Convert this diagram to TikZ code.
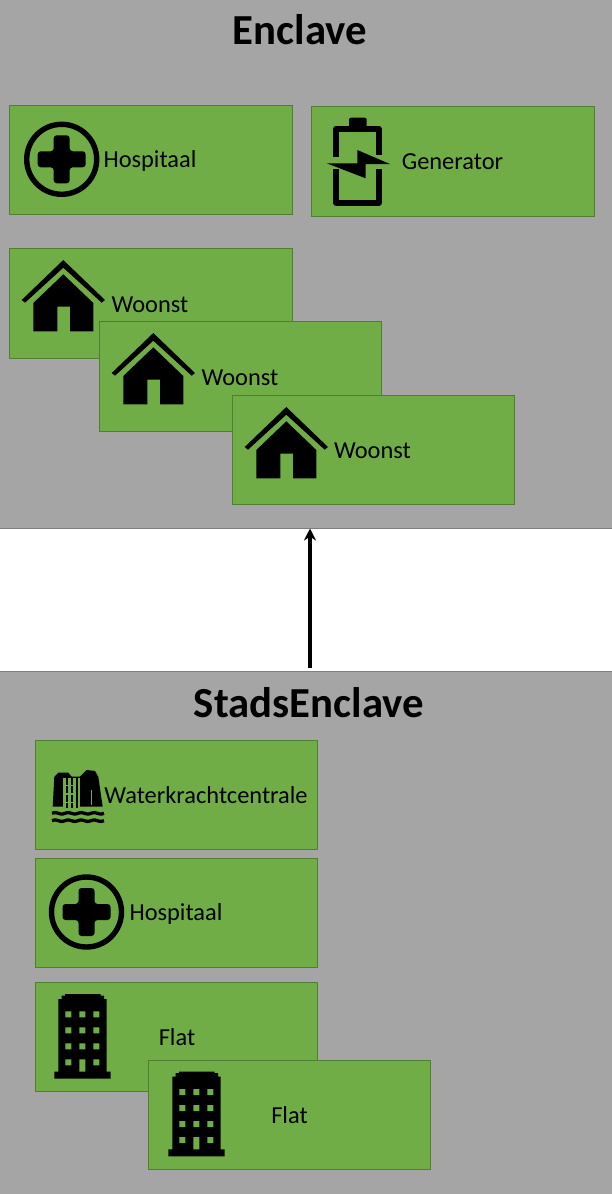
\documentclass[tikz,border=0pt]{standalone}
\usepackage{fontspec}
\usetikzlibrary{arrows.meta}
\setmainfont{Carlito}
\definecolor{panelgray}{HTML}{A5A5A5}
\definecolor{panelline}{HTML}{7F7F7F}
\definecolor{boxgreen}{HTML}{70AD47}
\definecolor{boxline}{HTML}{507E32}
\begin{document}
\begin{tikzpicture}[>={Stealth[length=12pt,width=12pt]},x=1pt,y=-1pt,
panel/.style={rectangle,fill=panelgray,draw=panelline,line width=.7pt,minimum width=613pt,inner sep=0pt,outer sep=0pt},
gebouw/.style={rectangle,fill=boxgreen,draw=boxline,line width=.7pt,minimum width=282pt,minimum height=109pt,inner sep=0pt,outer sep=0pt},
titel/.style={font=\fontsize{42.8}{50}\selectfont\bfseries,inner sep=0pt},
label/.style={font=\fontsize{24.4}{29}\selectfont,inner sep=0pt},
hospitaalicon/.pic={
\draw[line width=5.4pt](0,0) circle(35);
\fill[rounded corners=3pt](-8,-24)--(8,-24)--(8,-8)--(24,-8)--(24,8)--(8,8)--(8,24)--(-8,24)--(-8,8)--(-24,8)--(-24,-8)--(-8,-8)--cycle;
},
woonsticon/.pic={
\fill(0,0)--(41.7,40)--(38.4,42.7)--(0,7.7)--(-38.3,42.7)--(-41.6,40)--cycle;
\fill(0,14.3)--(30,43)--(30,71.3)--(6.7,71.3)--(6.7,46.7)--(-6,46.7)--(-6,71.3)--(-30,71.3)--(-30,43)--cycle;
},
flaticon/.pic={
\fill(10.7,0)--(46.4,0)--(46.4,1.5)--(49.7,1.5)--(49.7,5)--(52.4,5)--(52.4,77.7)--(56.4,77.7)--(56.4,84.7)--(0,84.7)--(0,77.7)--(4,77.7)--(4,5)--(7.3,5)--(7.3,1.5)--(10.7,1.5)--cycle;
\fill[boxgreen](11,17.3) rectangle +(6,6) (25,17.3) rectangle +(6,6) (39,17.3) rectangle +(6,6);
\fill[boxgreen](11,33.3) rectangle +(6,6) (25,33.3) rectangle +(6,6) (39,33.3) rectangle +(6,6);
\fill[boxgreen](11,49.3) rectangle +(6,6) (25,49.3) rectangle +(6,6) (39,49.3) rectangle +(6,6);
\fill[boxgreen](11,65.3) rectangle +(6,6) (25,65.3) rectangle +(6,12.4) (39,65.3) rectangle +(6,6);
},
generatoricon/.pic={
\fill[rounded corners=2pt](15.7,-8)--(33.4,-8)--(33.4,2)--(15.7,2)--cycle;
\draw[line width=6pt,line join=round](3,31.6)--(3,3)--(45.4,3)--(45.4,29.3);
\draw[line width=6pt,line join=round](3,43.3)--(3,77)--(45.4,77)--(45.4,43.3);
\fill(-6.6,37.6)--(24,37.6)--(24,24.3)--(56.7,38.3)--(32.4,38.3)--(32.4,52.6)--cycle;
},
waterkrachticon/.pic={
\fill(.7,36.7)--(2.3,6.7)--(6.3,2.7)--(16.3,2.7)--(19.7,6.7)--(28,6.7)--(34.7,0)--(43,1)--(46.3,6.7)--(50.7,36.7)--cycle;
\fill[boxgreen](10.7,7.7) rectangle (28,37.7);
\draw[line width=2pt,dash pattern=on 7pt off 1.5pt](14.5,7.7)--(14.5,37.7);
\draw[line width=2pt,dash pattern=on 7pt off 1.5pt](19.5,7.7)--(19.5,37.7);
\draw[line width=2pt](24.5,7.7)--(24.5,37.7);
\draw[boxgreen,line width=.8pt](39.7,20)--(39.7,35);
\draw[line width=3.3pt](0,43.3) .. controls (6.5,40.8) and (6.5,45.8) .. (13,43.3) .. controls (19.5,40.8) and (19.5,45.8) .. (26,43.3) .. controls (32.5,40.8) and (32.5,45.8) .. (39,43.3) .. controls (45.5,40.8) and (45.5,45.8) .. (52,43.3);
\draw[line width=3.3pt](0,50.7) .. controls (6.5,48.2) and (6.5,53.2) .. (13,50.7) .. controls (19.5,48.2) and (19.5,53.2) .. (26,50.7) .. controls (32.5,48.2) and (32.5,53.2) .. (39,50.7) .. controls (45.5,48.2) and (45.5,53.2) .. (52,50.7);
}]
\useasboundingbox (0,0) rectangle (611,1194);
\node[panel,minimum height=530pt] (enclave) at (305.5,263.5) {};
\node[panel,minimum height=525pt] (stadsenclave) at (305.5,933.5) {};
\node[titel] (enclavetitel) at (300,30) {Enclave};
\node[titel] (stadstitel) at (309,703) {StadsEnclave};

\node[gebouw,minimum width=283pt] (hospitaal1) at (151,160) {};
\pic at (61.7,159.3) {hospitaalicon};
\node[label] (hospitaal1tekst) at (150,160.5) {Hospitaal};
\node[gebouw,minimum width=283pt,minimum height=110pt] (generator) at (452.5,161.5) {};
\pic at (333.3,125.7) {generatoricon};
\node[label] (generatortekst) at (452.5,162) {Generator};

\node[gebouw,minimum width=283pt,minimum height=110pt] (woonst1) at (151,303.3) {};
\pic at (63.3,260) {woonsticon};
\node[label] (woonst1tekst) at (150,304.5) {Woonst};
\node[gebouw,minimum height=110pt] (woonst2) at (240.5,376.3) {};
\pic at (153.3,333) {woonsticon};
\node[label] (woonst2tekst) at (240,377.5) {Woonst};
\node[gebouw] (woonst3) at (373.5,450) {};
\pic at (286.3,407) {woonsticon};
\node[label] (woonst3tekst) at (372.5,450.5) {Woonst};

\draw[->,line width=3.6pt,shorten <=3pt] ([xshift=4.5pt]stadsenclave.north)--([xshift=4.5pt]enclave.south);

\node[gebouw] (waterkracht) at (176.5,795) {};
\pic at (52,770) {waterkrachticon};
\node[label] (waterkrachttekst) at (206,795.5) {Waterkrachtcentrale};
\node[gebouw] (hospitaal2) at (176.5,913) {};
\pic at (86.5,912) {hospitaalicon};
\node[label] (hospitaal2tekst) at (176,913.5) {Hospitaal};
\node[gebouw] (flat1) at (176.5,1037.2) {};
\pic at (54.3,994) {flaticon};
\node[label] (flat1tekst) at (177,1037) {Flat};
\node[gebouw] (flat2) at (289.5,1115) {};
\pic at (168.3,1071.7) {flaticon};
\node[label] (flat2tekst) at (289.5,1115) {Flat};
\end{tikzpicture}
\end{document}
